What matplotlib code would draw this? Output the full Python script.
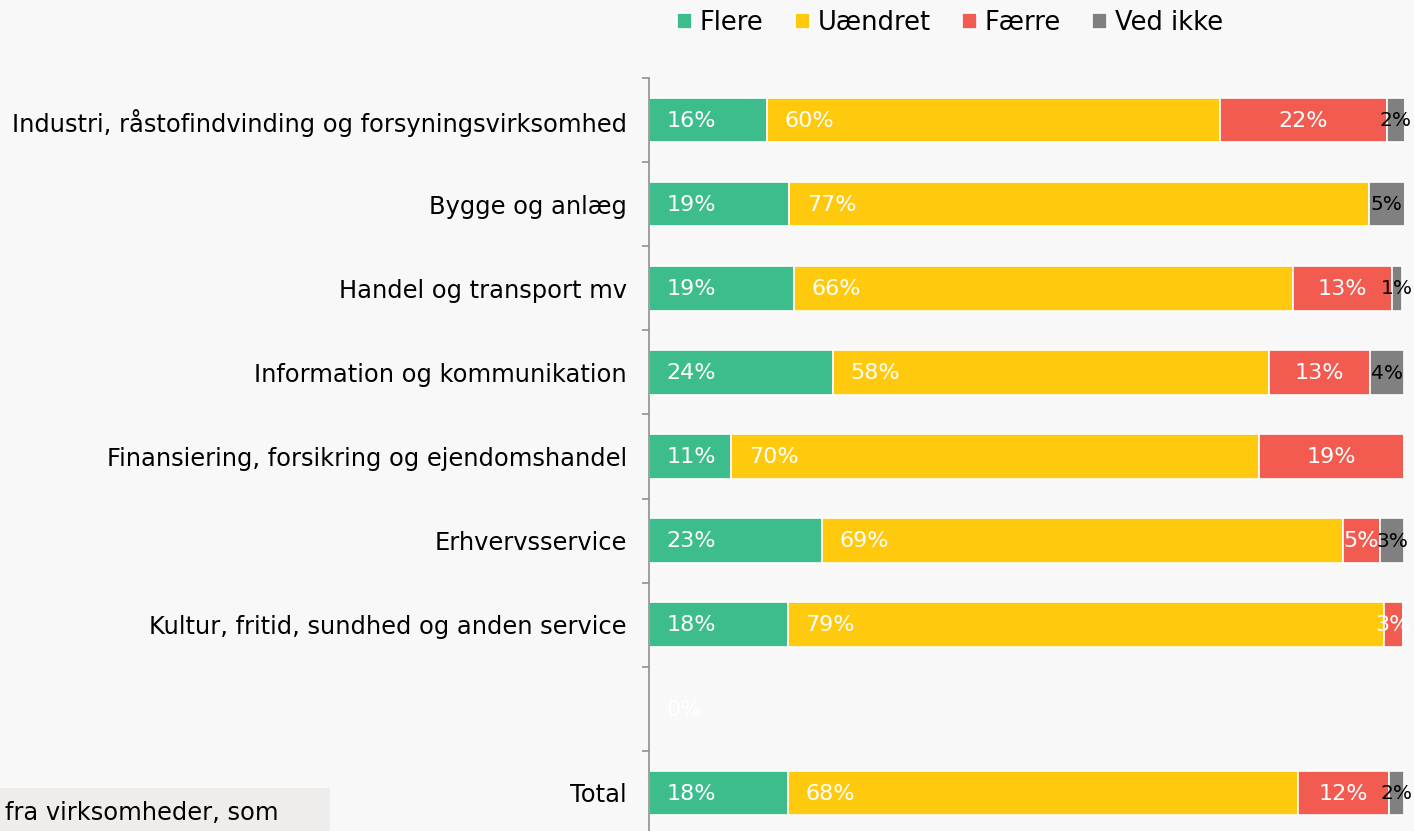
import numpy as np
import matplotlib
matplotlib.use("Agg")
import matplotlib.pyplot as plt

plt.rcParams['font.family'] = ['DejaVu Sans']

categories = [
    "Industri, råstofindvinding og forsyningsvirksomhed",
    "Bygge og anlæg",
    "Handel og transport mv",
    "Information og kommunikation",
    "Finansiering, forsikring og ejendomshandel",
    "Erhvervsservice",
    "Kultur, fritid, sundhed og anden service",
    "",
    "Total",
]
series = ["Flere", "Uændret", "Færre", "Ved ikke"]
flere    = [15.6, 18.6, 19.2, 24.4, 10.9, 22.9, 18.4, 0.0, 18.4]
uaendret = [60.0, 76.7, 66.1, 57.7, 69.9, 69.0, 78.9, np.nan, 67.5]
faerre   = [22.1, np.nan, 13.1, 13.4, 19.2, 4.9, 2.6, np.nan, 12.1]
ved_ikke = [2.4, 4.8, 1.4, 4.5, np.nan, 3.2, np.nan, np.nan, 2.0]
colors = ["#3dbd8c", "#ffc90e", "#f25c50", "#808080"]
label_colors = ["white", "white", "white", "black"]
label_align = ["left", "left", "center", "center"]
footnote = "fra virksomheder, som"

W, H = 1414, 831
fig = plt.figure(figsize=(W / 100, H / 100), dpi=100)
fig.patch.set_facecolor("#f8f8f8")

ax_left, ax_right = 649, 1404
ax_top, ax_bottom = 78, 835
ax = fig.add_axes([ax_left / W, 1 - ax_bottom / H, (ax_right - ax_left) / W, (ax_bottom - ax_top) / H])
ax.set_facecolor("#f8f8f8")

n = len(categories)
y = np.arange(n)
data = [flere, uaendret, faerre, ved_ikke]
left = np.zeros(n)
for s, (vals, col) in enumerate(zip(data, colors)):
    v = np.array(vals, dtype=float)
    w = np.nan_to_num(v)
    ax.barh(y, w, left=left, height=0.53, color=col, edgecolor="white", linewidth=1.2,
            label=series[s])
    for i in range(n):
        if np.isnan(v[i]):
            continue
        txt = f"{round(v[i]):.0f}%"
        if label_align[s] == "left":
            ax.annotate(txt, (left[i], y[i]), xytext=(12.5, -0.5), textcoords="offset points",
                        ha="left", va="center", color=label_colors[s], fontsize=16)
        else:
            ax.annotate(txt, (left[i] + w[i] / 2, y[i]), xytext=(0, -0.5), textcoords="offset points",
                        ha="center", va="center", color=label_colors[s], fontsize=16 if s < 3 else 14.5)
    left += w

ax.set_xlim(0, 100)
ax.set_ylim(n - 0.5, -0.5)
ax.set_yticks(y)
ax.set_yticklabels(categories, fontsize=17.4)
ax.set_yticks(np.arange(n) - 0.5, minor=True)
ax.tick_params(axis="y", which="major", length=0, pad=16)
ax.tick_params(axis="y", which="minor", length=5, color="#909090", width=1.2)
ax.set_xticks([])
for sp in ["top", "right", "bottom"]:
    ax.spines[sp].set_visible(False)
ax.spines["left"].set_color("#909090")
ax.spines["left"].set_linewidth(1.2)

leg = fig.legend(loc="center", bbox_to_anchor=(950 / W, 1 - 23 / H), ncol=4, frameon=False,
                 fontsize=18.5, handlelength=0.6, handleheight=0.6, handletextpad=0.3,
                 columnspacing=1.2)

fig.patches.append(matplotlib.patches.Rectangle((0, 0), 330 / W, 43 / H, transform=fig.transFigure,
                                                 facecolor="#eeedeb", edgecolor="none", zorder=0))
fig.text(5 / W, 1 - 813 / H, footnote, fontsize=17.4, ha="left", va="center")

fig.savefig("out.png", dpi=100, facecolor=fig.get_facecolor())
